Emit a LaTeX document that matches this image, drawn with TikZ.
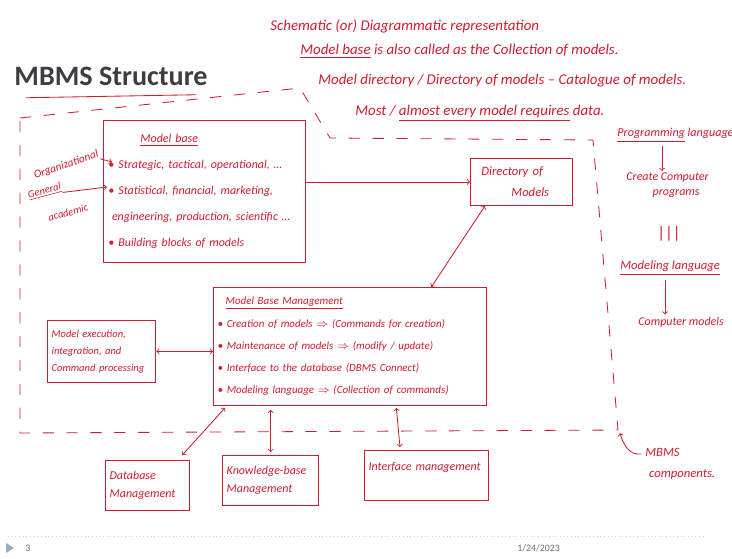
\documentclass[tikz,border=0pt]{standalone}
\usepackage{fontspec}
\setmainfont{Carlito}
\usepackage{xcolor}
\usetikzlibrary{arrows,calc,positioning}
\definecolor{pen}{RGB}{206,28,48}
\definecolor{slidegray}{RGB}{62,62,66}
\definecolor{footgray}{RGB}{110,110,110}
\definecolor{footblue}{RGB}{150,172,200}

\begin{document}
\begin{tikzpicture}[x=0.025cm,y=-0.025cm,>=to,semithick,pen]
\tikzstyle{box}=[draw, rectangle, anchor=north west, inner sep=3pt, align=left, font=\itshape\fontsize{8.5}{15.5}\selectfont]
\tikzstyle{note}=[anchor=west, inner sep=0pt, align=left, font=\itshape\fontsize{10.6}{13}\selectfont]
\tikzstyle{side}=[anchor=west, inner sep=0pt, align=left, font=\itshape\fontsize{8.5}{11}\selectfont]

\useasboundingbox (0,0) rectangle (732,559);

% slide title
\node[anchor=west, inner sep=0pt, text=slidegray, font=\bfseries\fontsize{20}{24}\selectfont] (title) at (14,76) {MBMS Structure};
\draw ($(title.south west)+(12,12)$) -- ($(title.south east)+(-12,9)$);

% notes on top
\node[note] (schem) at (270,26) {Schematic (or) Diagrammatic representation};
\node[note] (mbase) at (300,51) {\underline{Model base} is also called as the Collection of models.};
\node[note] (mdir) at (318,81) {Model directory / Directory of models -- Catalogue of models.};
\node[note] (mreq) at (355,113) {Most / \underline{almost every model requires} data.};

% MBMS boundary
\draw[dashed, dash pattern=on 8pt off 9pt] (20,118) -- (300,88) -- (330,138) -- (593,140) -- (618,430) -- (20,433) -- cycle;

% model base
\node[box, minimum width=5.05cm, minimum height=3.55cm, text width=4.8cm, font=\itshape\fontsize{8.5}{18.4}\selectfont] (base) at (103,120)
  {\hspace*{0.8cm}\underline{Model base}\\
   • Strategic, tactical, operational, \ldots\\
   • Statistical, financial, marketing,\\
   \hspace*{0.3em}engineering, production, scientific \ldots\\
   • Building blocks of models};

\node[side, rotate=19, font=\itshape\fontsize{8}{10}\selectfont] (org) at (34,176) {Organizational};
\node[side, rotate=15, font=\itshape\fontsize{7.5}{9}\selectfont] (gen) at (28,196) {\underline{General}};
\node[side, rotate=15, font=\itshape\fontsize{7.5}{9}\selectfont] (acad) at (48,218) {academic};
\coordinate (orgin) at (112,162);
\coordinate (genin) at (107,187);

% directory and management
\node[box, minimum width=2.55cm, minimum height=1.175cm, text width=2.3cm, font=\itshape\fontsize{9}{15}\selectfont] (dir) at (470,158)
  {\hspace*{0.15cm}Directory of\\ \hspace*{0.9cm}Models};

\node[box, minimum width=6.8cm, minimum height=2.95cm, text width=6.6cm, font=\itshape\fontsize{7.8}{15.8}\selectfont] (mbm) at (213,287)
  {\hspace*{0.2cm}\underline{Model Base Management}\\
   • Creation of models $\Rightarrow$ (Commands for creation)\\
   • Maintenance of models $\Rightarrow$ (modify / update)\\
   • Interface to the database (DBMS Connect)\\
   • Modeling language $\Rightarrow$ (Collection of commands)};

\node[box, minimum width=2.65cm, minimum height=1.55cm, text width=2.5cm, font=\itshape\fontsize{7.5}{12}\selectfont] (exec) at (47,320)
  {Model execution,\\ integration, and\\ Command processing};

% components below
\node[box, minimum width=2.05cm, minimum height=1.25cm, text width=1.9cm, font=\itshape\fontsize{8.5}{13}\selectfont] (db) at (105,460)
  {Database\\ Management};
\node[box, minimum width=2.4cm, minimum height=1.25cm, text width=2.2cm, font=\itshape\fontsize{8.5}{13}\selectfont] (kb) at (222,455)
  {Knowledge-base\\ Management};
\node[box, minimum width=3.1cm, minimum height=1.25cm, text width=2.9cm, font=\itshape\fontsize{8.5}{13}\selectfont] (im) at (364,450)
  {Interface management\\ \mbox{}};

\path[->]
  (org.south east) edge (orgin)
  (gen.south east) edge (genin)
  (base.east |- dir.west) edge (dir.west);
\path[<->]
  ($(dir.south west)+(15,0)$) edge ($(mbm.north east)+(-55,0)$)
  (exec.east) edge (exec.east -| mbm.west)
  ($(mbm.south west)+(12,2)$) edge ($(db.north east)+(-8,-5)$)
  ($(kb.north |- mbm.south)+(0,4)$) edge ($(kb.north)+(0,-3)$)
  ($(mbm.south east)+(-90,2)$) edge ($(im.north west)+(36,-3)$);

% notes on the right
\node[side, font=\itshape\fontsize{8.6}{12}\selectfont] (prog) at (617,135) {\underline{Programming} language};
\node[side] (cc) at (626,185) {Create Computer\\ \hspace*{2.2em}programs};
\node[side, font=\fontsize{12}{12}\selectfont] (eq) at (657,234) {|||};
\node[side, font=\itshape\fontsize{9}{12}\selectfont] (mlang) at (620,268) {\underline{Modeling language}};
\node[side] (cm) at (638,322) {Computer models};
\path[->]
  ($(prog.south west)+(45,4)$) edge ($(cc.north west)+(36,-1)$)
  ($(mlang.south west)+(45,5)$) edge ($(cm.north west)+(27,-2)$);

\node[side, font=\itshape\fontsize{9}{15}\selectfont] (comp) at (645,464) {MBMS\\ \hspace*{0.3em}components.};
\coordinate (corner) at (620,433);
\draw[->] ($(comp.north west)+(-4,6)$) to[out=190,in=-75] (corner);

% slide footer
\draw[dotted, gray!35] (8,536) -- (705,536);
\fill[footblue] (6,543) -- (14,548) -- (6,553) -- cycle;
\node[anchor=west, inner sep=0pt, text=footgray, font=\fontsize{7}{8}\selectfont] (pg) at (25,548) {3};
\node[anchor=west, inner sep=0pt, text=footgray, font=\fontsize{7}{8}\selectfont] (date) at (517,548) {1/24/2023};
\end{tikzpicture}
\end{document}
